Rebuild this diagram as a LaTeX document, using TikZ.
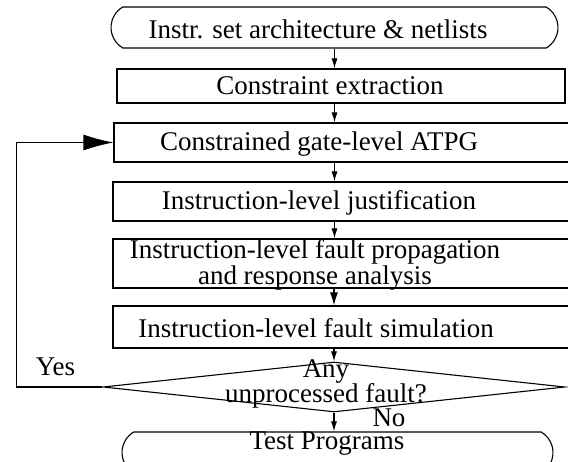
\documentclass[tikz,border=0pt]{standalone}
\usepackage{fontspec}
\setmainfont{Liberation Serif}
\usetikzlibrary{arrows.meta,shapes.geometric,shapes.misc}

\begin{document}
\begin{tikzpicture}[x=1pt, y=-1pt, line width=1.1pt, >={Latex[length=10pt,width=6pt]},
    box/.style={draw, rectangle, inner sep=0pt},
    term/.style={draw, rounded rectangle, rounded rectangle arc length=120, inner sep=0pt},
    txt/.style={inner sep=0pt, font=\fontsize{27}{18}\selectfont, align=center}]
    \useasboundingbox (0,0) rectangle (568,462);

    % Shapes
    \node[term, minimum width=447pt, minimum height=41pt] (isa) at (334.5,27.5) {};
    \node[box, minimum width=448pt, minimum height=34pt] (cons) at (341,86) {};
    \node[box, minimum width=456pt, minimum height=39pt] (atpg) at (342,142.5) {};
    \node[box, minimum width=459pt, minimum height=39pt] (just) at (342.5,201.5) {};
    \node[box, minimum width=459pt, minimum height=49pt] (prop) at (342.5,263.5) {};
    \node[box, minimum width=459pt, minimum height=42pt] (sim) at (342.5,327) {};
    \node[draw, diamond, inner sep=0pt, minimum width=462pt, minimum height=50pt] (dec) at (334,387) {};
    \node[term, minimum width=431pt, minimum height=41pt] (test) at (337.5,452.5) {};

    % Texts
    \node[txt] (isa-t) at (318,29) {Instr. set architecture \& netlists};
    \node[txt] (cons-t) at (330,86) {Constraint extraction};
    \node[txt] (atpg-t) at (319,144) {Constrained gate-level ATPG};
    \node[txt] (just-t) at (319,203) {Instruction-level justification};
    \node[txt] (prop-t) at (315,265) {Instruction-level fault propagation\\and response analysis};
    \node[txt] (sim-t) at (316,328) {Instruction-level fault simulation};
    \node[txt] (dec-t) at (326,384) {Any\\unprocessed fault?};
    \node[txt] (test-t) at (327,444) {Test Programs};
    \node[txt] (yes) at (55.5,367) {Yes};
    \node[txt] (no) at (389,418) {No};

    % Arrows
    \draw[->] (isa.south) -- (isa.south |- cons.north);
    \draw[->] (isa.south |- cons.south) -- (isa.south |- atpg.north);
    \draw[->] (isa.south |- atpg.south) -- (isa.south |- just.north);
    \draw[->] (isa.south |- just.south) -- (isa.south |- prop.north);
    \draw[-{Latex[length=13pt,width=8pt]}] (dec.north |- prop.south) -- (dec.north |- sim.north);
    \draw[->] (dec.north |- sim.south) -- (dec.north);
    \draw[->] (dec.south) -- (dec.south |- test.north);

    % Loop back
    \draw[-{Latex[length=30pt,width=16pt]}] (dec.west) -- ++(-86,0) |- (atpg.west);
\end{tikzpicture}
\end{document}
